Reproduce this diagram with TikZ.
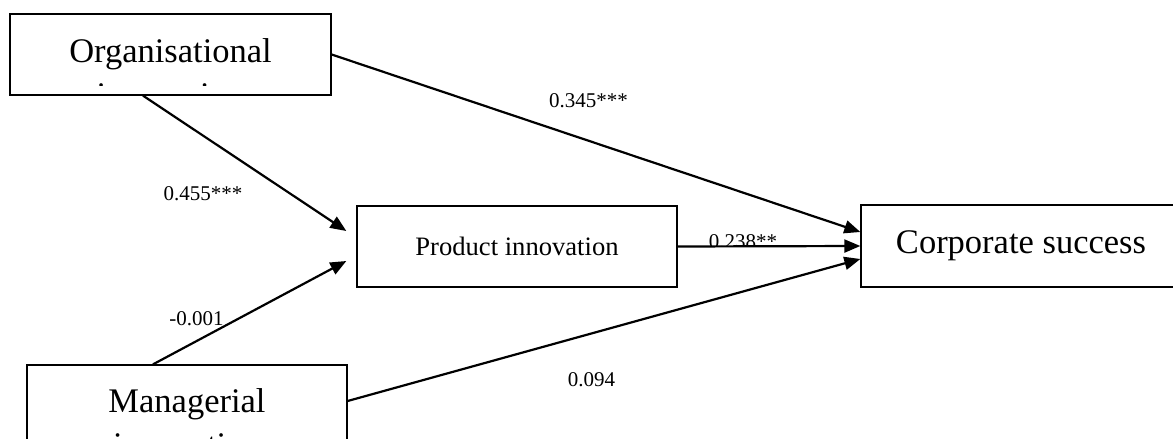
\documentclass[tikz,border=0pt]{standalone}
\usepackage{fontspec}
\setmainfont{Liberation Serif}
\usetikzlibrary{arrows.meta}
\definecolor{ink}{HTML}{000000}
\tikzset{
  box/.style={draw=ink, line width=1.3pt, minimum width=320pt, minimum height=81pt, inner sep=0pt},
  arr/.style={draw=ink, line width=2.2pt, -{Triangle[length=16pt,width=13pt]}},
  big/.style={text=ink, font=\fontsize{34.5}{44}\selectfont, align=center, inner sep=0pt},
  mid/.style={text=ink, font=\fontsize{26.6}{32}\selectfont},
  lbl/.style={text=ink, font=\fontsize{21}{25}\selectfont, inner sep=0pt, anchor=base}
}

\begin{document}
\begin{tikzpicture}[x=1pt,y=-1pt]
  \useasboundingbox (0,0) rectangle (1173,439);

  \node[box, minimum width=321pt] (org) at (170.5,54.5) {};
  \node[box, minimum height=82pt] (mgr) at (187,406) {};
  \node[box, mid] (prod) at (517,246.5) {Product innovation};
  \node[box, big, minimum height=82pt] (corp) at (1021,246) {Corporate success};

  % the two-line texts are cut off by their boxes
  \begin{scope}
    \clip (org.north west) rectangle ([yshift=10.5pt]org.south east);
    \node[big, anchor=base] (orgtxt) at (170.5,106) {Organisational\\innovation};
  \end{scope}
  \node[big, anchor=base] (mgrtxt) at (187,456) {Managerial\\innovation};

  \draw[arr] (org.east) -- ([yshift=14pt]corp.west);
  \draw[arr] ([xshift=-27.5pt]org.south) -- ([shift={(-10pt,15.5pt)}]prod.west);
  \draw[arr] ([xshift=-34pt]mgr.north) -- ([shift={(-10pt,-14.5pt)}]prod.west);
  \draw[arr] ([yshift=5pt]mgr.east) -- ([yshift=-13pt]corp.west);
  \draw[arr] (prod.east) -- (corp.west);

  \node[lbl] (c1) at (203,200) {0.455***};
  \node[lbl] (c2) at (588.5,107) {0.345***};
  \begin{scope}
    \clip (690,228) rectangle (800,245);
    \node[lbl] (c3) at (743,248.5) {0.238**};
  \end{scope}
  \node[lbl] (c4) at (196.5,325) {-0.001};
  \node[lbl] (c5) at (591.5,386) {0.094};
\end{tikzpicture}
\end{document}
